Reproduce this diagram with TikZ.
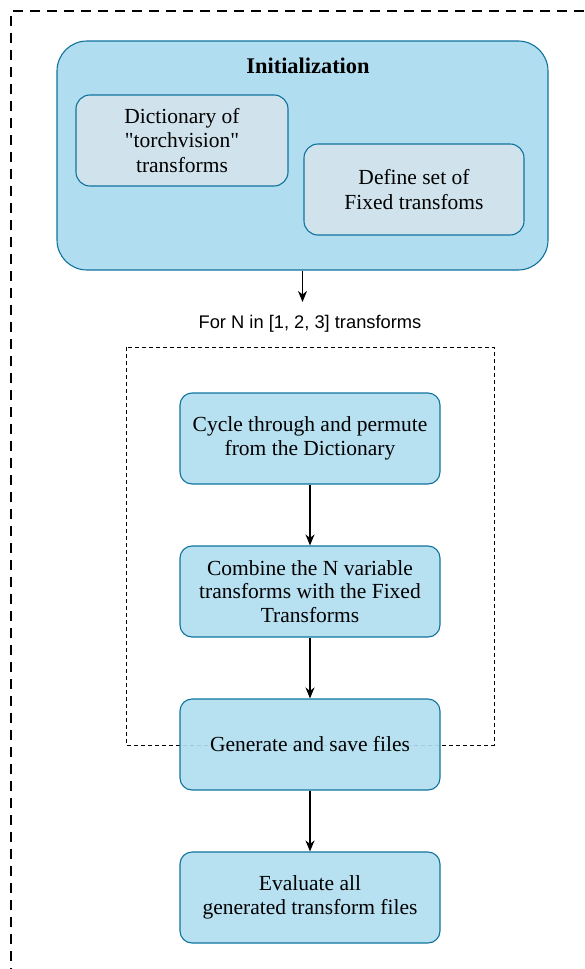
\documentclass[tikz,border=0pt]{standalone}
\usepackage{fontspec}
\setmainfont{Liberation Serif}
\newfontfamily\qfont{Liberation Serif}[Ligatures=ResetAll]
\newfontfamily\labelfont{Liberation Sans}
\usetikzlibrary{arrows.meta}
\definecolor{boxfill}{HTML}{B1DDF0}
\definecolor{boxline}{HTML}{10739E}
\definecolor{subfill}{HTML}{D0E3EC}
\tikzset{
  stepbox/.style={draw=boxline, line width=1.1pt, fill=boxfill, fill opacity=0.92, text opacity=1,
    rounded corners=12pt, minimum width=260pt, minimum height=91pt, align=center,
    font=\fontsize{21.5}{23.5}\selectfont, inner sep=0pt},
  subbox/.style={draw=boxline, line width=1.1pt, fill=subfill, rounded corners=14pt,
    minimum height=91pt, align=center, font=\fontsize{21.5}{24.5}\selectfont, inner sep=0pt},
  conn/.style={line width=1.3pt, -{Stealth[length=11pt, width=9pt, inset=3.5pt]}},
}
\begin{document}
\begin{tikzpicture}[x=1pt, y=-1pt]
\useasboundingbox (0,0) rectangle (585,969);
\begin{scope}
\clip (0,0) rectangle (585,969);
\draw[line width=1.1pt, dash pattern=on 10pt off 7pt] (11,995) -- (11,11) -- (600,11);
\end{scope}
% initialization
\node[draw=boxline, line width=1.1pt, fill=boxfill, rounded corners=30pt,
  minimum width=491pt, minimum height=229pt, inner sep=0pt] (init) at (302.5,155.5) {};
\node[font=\bfseries\fontsize{22.4}{24}\selectfont, anchor=base] (inittitle) at (308,73) {Initialization};
\node[subbox, minimum width=212pt] (dict) at (182,140.5) {Dictionary of\\{\qfont"}torchvision{\qfont"}\\transforms};
\node[subbox, minimum width=220pt] (fixed) at (414,189.5) {Define set of\\Fixed transfoms};
\coordinate (arrend) at (302.5,302);
\draw[conn] (init.south) -- (arrend);
\node[font=\labelfont\fontsize{18.3}{20}\selectfont] (forlabel) at (310,324) {For N in [1, 2, 3] transforms};
% inner dashed loop
\draw[line width=1pt, dash pattern=on 4pt off 3pt] (126,347) rectangle (494,745);
\node[stepbox] (cycle) at (310,438.5) {Cycle through and permute\\from the Dictionary};
\node[stepbox] (combine) at (310,591.5) {Combine the N variable\\transforms with the Fixed\\Transforms};
\node[stepbox] (generate) at (310,744.5) {Generate and save files};
\node[stepbox] (evaluate) at (310,897.5) {Evaluate all\\generated transform files};
\draw[conn] (cycle) -- (combine);
\draw[conn] (combine) -- (generate);
\draw[conn] (generate) -- (evaluate);
\end{tikzpicture}
\end{document}
